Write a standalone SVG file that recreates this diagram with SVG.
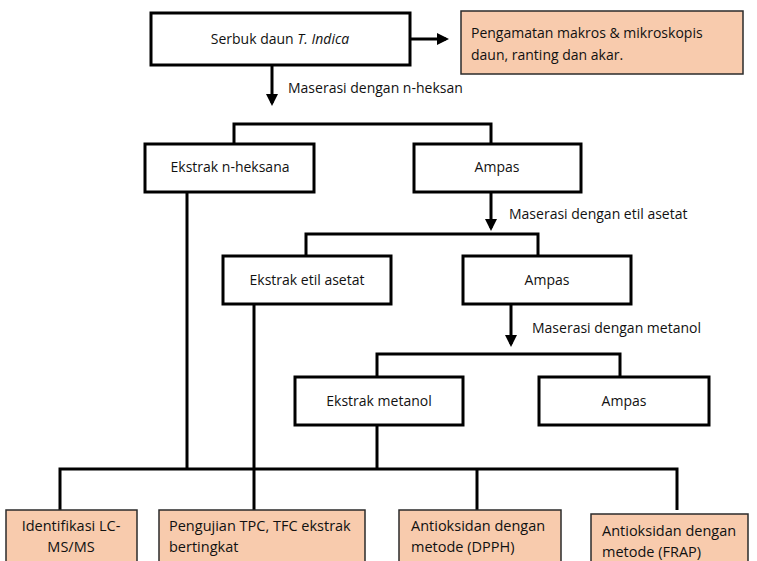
<svg xmlns="http://www.w3.org/2000/svg" width="757" height="561" viewBox="0 0 757 561">
<defs>
<marker id="ah" markerWidth="4" markerHeight="4" refX="3" refY="2" orient="auto" markerUnits="strokeWidth">
<path d="M0,0 L4,2 L0,4 Z" fill="#000"/>
</marker>
<style>
text{font-family:"Open Sans","Liberation Sans",sans-serif;font-size:14px;fill:#111}
.c{text-anchor:middle}
.b{font-size:14.5px}
.box{fill:#fff;stroke:#000;stroke-width:3}
.ob{fill:#F8CBAD;stroke:#2b2b2b;stroke-width:1.5}
.ln{fill:none;stroke:#000;stroke-width:3}
</style>
</defs>
<rect width="757" height="561" fill="#fff"/>
<g id="connectors">
<path class="ln" d="M411,39 H446" marker-end="url(#ah)"/>
<path class="ln" d="M272,66 V103" marker-end="url(#ah)"/>
<path class="ln" d="M234,144 V124 H491 V144"/>
<path class="ln" d="M491,192 V228" marker-end="url(#ah)"/>
<path class="ln" d="M306,256 V234 H538 V256"/>
<path class="ln" d="M511,304 V344" marker-end="url(#ah)"/>
<path class="ln" d="M377,377 V354 H620 V377"/>
<path class="ln" d="M187,192 V469"/>
<path class="ln" d="M254,304 V469"/>
<path class="ln" d="M377,425 V469"/>
<path class="ln" d="M60,510 V469 H677 V510"/>
<path class="ln" d="M254,469 V510"/>
<path class="ln" d="M477,469 V510"/>
</g>
<g id="n-serbuk"><rect class="box" x="151" y="13" width="259" height="52"/><text class="c" x="280" y="44">Serbuk daun <tspan font-style="italic">T. Indica</tspan></text></g>
<g id="n-pengamatan"><rect class="ob" x="461" y="11" width="282" height="63"/><text x="471" y="38">Pengamatan makros &amp; mikroskopis</text><text x="471" y="60">daun, ranting dan akar.</text></g>
<text x="288" y="93">Maserasi dengan n-heksan</text>
<g id="n-heksana"><rect class="box" x="145" y="144" width="169" height="48"/><text class="c" x="230" y="172">Ekstrak n-heksana</text></g>
<g id="n-ampas1"><rect class="box" x="414" y="144" width="167" height="48"/><text class="c" x="497" y="172">Ampas</text></g>
<text x="509" y="219">Maserasi dengan etil asetat</text>
<g id="n-etil"><rect class="box" x="223" y="256" width="168" height="48"/><text class="c" x="307" y="285">Ekstrak etil asetat</text></g>
<g id="n-ampas2"><rect class="box" x="463" y="256" width="168" height="48"/><text class="c" x="547" y="285">Ampas</text></g>
<text x="532" y="333">Maserasi dengan metanol</text>
<g id="n-metanol"><rect class="box" x="295" y="377" width="168" height="48"/><text class="c" x="379" y="406">Ekstrak metanol</text></g>
<g id="n-ampas3"><rect class="box" x="539" y="377" width="170" height="48"/><text class="c" x="624" y="406">Ampas</text></g>
<g id="n-lcms"><rect class="ob" x="6" y="510" width="131" height="70"/><text class="c b" x="71" y="531">Identifikasi LC-</text><text class="c b" x="71" y="552">MS/MS</text></g>
<g id="n-tpc"><rect class="ob" x="159" y="510" width="206" height="70"/><text class="b" x="169" y="531">Pengujian TPC, TFC ekstrak</text><text class="b" x="169" y="552">bertingkat</text></g>
<g id="n-dpph"><rect class="ob" x="399" y="510" width="162" height="70"/><text class="b" x="411" y="531">Antioksidan  dengan</text><text class="b" x="411" y="552">metode (DPPH)</text></g>
<g id="n-frap"><rect class="ob" x="591" y="514" width="157" height="70"/><text class="b" x="602" y="536">Antioksidan dengan</text><text class="b" x="602" y="557">metode (FRAP)</text></g>
</svg>
